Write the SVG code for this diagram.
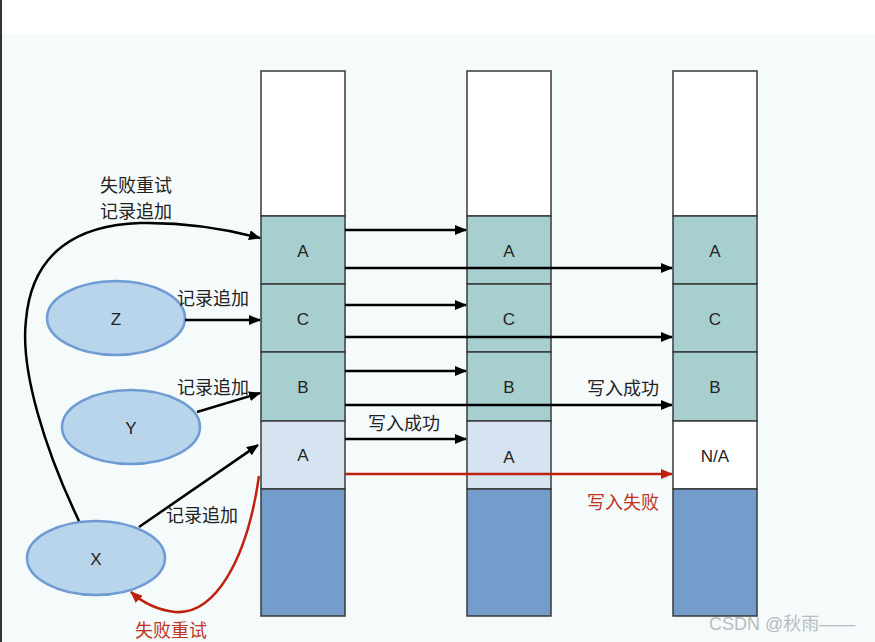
<svg xmlns="http://www.w3.org/2000/svg" width="875" height="642" viewBox="0 0 875 642">
<style>
.cell{stroke:#3a3a3a;stroke-width:1.5}
.w{fill:#ffffff}.t{fill:#a8cfcf}.l{fill:#d5e4f0}.d{fill:#759dcb}
.lt{font-family:"Liberation Sans",Arial,sans-serif;font-size:17px;fill:#222;text-anchor:middle;dominant-baseline:central}
.cj{font-family:"Noto Sans CJK SC",sans-serif;font-size:18px;fill:#222;dominant-baseline:central}
.red{fill:#c0331e}
.ell{fill:#b9d5eb;stroke:#6e9bd4;stroke-width:2.5}
.ar{stroke:#000;stroke-width:2.5;fill:none;marker-end:url(#ah)}
.arr{stroke:#c0210e;stroke-width:2.5;fill:none;marker-end:url(#ahr)}
</style>
<defs>
<marker id="ah" viewBox="0 0 12 10" refX="11" refY="5" markerWidth="12" markerHeight="10" markerUnits="userSpaceOnUse" orient="auto"><path d="M0,0 L12,5 L0,10 Z" fill="#000"/></marker>
<marker id="ahr" viewBox="0 0 12 10" refX="11" refY="5" markerWidth="12" markerHeight="10" markerUnits="userSpaceOnUse" orient="auto"><path d="M0,0 L12,5 L0,10 Z" fill="#c0210e"/></marker>
</defs>
<rect x="0" y="0" width="875" height="642" fill="#ffffff"/>
<rect x="0" y="34" width="875" height="608" fill="#f5fafb"/>
<line x1="1" y1="0" x2="1" y2="642" stroke="#333" stroke-width="2"/>

<g id="col1">
<rect class="cell w" x="261" y="71" width="84" height="145"/>
<rect class="cell t" x="261" y="216" width="84" height="68"/>
<rect class="cell t" x="261" y="284" width="84" height="68"/>
<rect class="cell t" x="261" y="352" width="84" height="69"/>
<rect class="cell l" x="261" y="421" width="84" height="68"/>
<rect class="cell d" x="261" y="489" width="84" height="127"/>
<text class="lt" x="303" y="251">A</text>
<text class="lt" x="303" y="319">C</text>
<text class="lt" x="303" y="387">B</text>
<text class="lt" x="303" y="455">A</text>
</g>
<g id="col2">
<rect class="cell w" x="467" y="71" width="84" height="145"/>
<rect class="cell t" x="467" y="216" width="84" height="68"/>
<rect class="cell t" x="467" y="284" width="84" height="68"/>
<rect class="cell t" x="467" y="352" width="84" height="69"/>
<rect class="cell l" x="467" y="421" width="84" height="68"/>
<rect class="cell d" x="467" y="489" width="84" height="127"/>
<text class="lt" x="509" y="251">A</text>
<text class="lt" x="509" y="319">C</text>
<text class="lt" x="509" y="387">B</text>
<text class="lt" x="509" y="457">A</text>
</g>
<g id="col3">
<rect class="cell w" x="673" y="71" width="84" height="145"/>
<rect class="cell t" x="673" y="216" width="84" height="68"/>
<rect class="cell t" x="673" y="284" width="84" height="68"/>
<rect class="cell t" x="673" y="352" width="84" height="69"/>
<rect class="cell w" x="673" y="421" width="84" height="68"/>
<rect class="cell d" x="673" y="489" width="84" height="127"/>
<text class="lt" x="715" y="251">A</text>
<text class="lt" x="715" y="319">C</text>
<text class="lt" x="715" y="387">B</text>
<text class="lt" x="715" y="456">N/A</text>
</g>

<g id="Z"><ellipse class="ell" cx="116" cy="318" rx="69" ry="37"/><text class="lt" x="116" y="319">Z</text></g>
<g id="Y"><ellipse class="ell" cx="131" cy="427" rx="69" ry="37"/><text class="lt" x="131" y="428">Y</text></g>
<g id="X"><ellipse class="ell" cx="96" cy="558" rx="69" ry="37"/><text class="lt" x="96" y="559">X</text></g>

<g id="connectors">
<line class="ar" x1="345" y1="230" x2="466" y2="230"/>
<line class="ar" x1="345" y1="268" x2="672" y2="268"/>
<line class="ar" x1="345" y1="305" x2="466" y2="305"/>
<line class="ar" x1="345" y1="337" x2="672" y2="337"/>
<line class="ar" x1="345" y1="371" x2="466" y2="371"/>
<line class="ar" x1="345" y1="405" x2="672" y2="405"/>
<line class="ar" x1="345" y1="439" x2="466" y2="439"/>
<line class="arr" x1="345" y1="474" x2="672" y2="474"/>
<line class="ar" x1="185" y1="320" x2="260" y2="320"/>
<line class="ar" x1="197" y1="412" x2="260" y2="393"/>
<line class="ar" x1="139" y1="527" x2="258" y2="445"/>
<path class="ar" d="M79,521 C45,450 20,370 26,320 C32,250 80,225 140,223 C190,222 230,230 260,238"/>
<path class="arr" d="M259,476 C247,560 215,615 175,612 C158,610 142,602 131,592"/>
</g>

<g id="labels">
<text class="cj" x="100" y="184">失败重试</text>
<text class="cj" x="100" y="210">记录追加</text>
<text class="cj" x="177" y="297">记录追加</text>
<text class="cj" x="177" y="386">记录追加</text>
<text class="cj" x="166" y="514">记录追加</text>
<text class="cj" x="368" y="422">写入成功</text>
<text class="cj" x="587" y="387">写入成功</text>
<text class="cj red" x="587" y="501">写入失败</text>
<text class="cj red" x="135" y="629">失败重试</text>
<text x="709" y="624" font-family="Liberation Sans,Arial,Noto Sans CJK SC,sans-serif" font-size="18" fill="#b8bcc0" dominant-baseline="central">CSDN @秋雨——</text>
</g>
</svg>
